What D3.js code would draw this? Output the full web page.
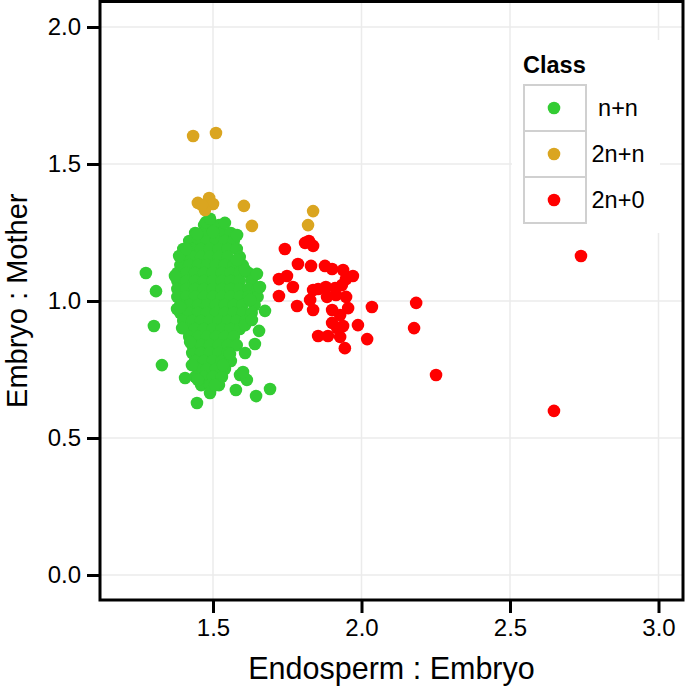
<!DOCTYPE html>
<html><head><meta charset="utf-8">
<script src="https://cdn.jsdelivr.net/npm/d3@7"></script>
<style>body{margin:0;background:#fff;} text{font-family:"Liberation Sans",Arial,Helvetica,sans-serif;}</style>
</head><body>
<svg id="c" width="685" height="687"></svg>
<script>
// Classes & colors
const classes = ["n+n", "2n+n", "2n+0"];
const classColors = ["#33cc33", "#daa520", "#ff0000"];
const xTicks = [1.5, 2.0, 2.5, 3.0];
const yTicks = [0.0, 0.5, 1.0, 1.5, 2.0];

// n+n : dense core, read row by row  [y, [x...]]
const greenCoreRows = [
  [1.277, [1.47, 1.50, 1.52]],
  [1.248, [1.44, 1.47, 1.50, 1.53, 1.56]],
  [1.219, [1.42, 1.45, 1.48, 1.51, 1.54, 1.57]],
  [1.190, [1.40, 1.43, 1.46, 1.49, 1.52, 1.55, 1.58]],
  [1.161, [1.40, 1.43, 1.46, 1.49, 1.52, 1.55, 1.59]],
  [1.131, [1.39, 1.42, 1.45, 1.48, 1.51, 1.54, 1.57, 1.60]],
  [1.102, [1.38, 1.41, 1.44, 1.47, 1.50, 1.53, 1.56, 1.59, 1.62]],
  [1.073, [1.38, 1.41, 1.44, 1.47, 1.50, 1.53, 1.56, 1.59, 1.63]],
  [1.044, [1.38, 1.41, 1.44, 1.47, 1.50, 1.53, 1.56, 1.59, 1.62, 1.65]],
  [1.015, [1.38, 1.41, 1.44, 1.47, 1.50, 1.53, 1.56, 1.59, 1.62, 1.65]],
  [0.985, [1.39, 1.42, 1.45, 1.48, 1.51, 1.54, 1.57, 1.60, 1.64]],
  [0.956, [1.39, 1.42, 1.45, 1.48, 1.51, 1.54, 1.57, 1.60, 1.63]],
  [0.927, [1.40, 1.43, 1.46, 1.49, 1.52, 1.55, 1.58, 1.61]],
  [0.898, [1.41, 1.44, 1.47, 1.50, 1.53, 1.56, 1.59]],
  [0.869, [1.42, 1.45, 1.48, 1.51, 1.54, 1.57]],
  [0.839, [1.43, 1.46, 1.49, 1.52, 1.55, 1.58]],
  [0.810, [1.43, 1.46, 1.49, 1.52, 1.55]],
  [0.781, [1.44, 1.47, 1.50, 1.53, 1.56]],
  [0.752, [1.45, 1.48, 1.51, 1.54]],
  [0.723, [1.44, 1.47, 1.50, 1.53]],
  [0.693, [1.46, 1.49, 1.52]]
];
// n+n : scattered points
const greenPoints = [
  [1.476,1.288],[1.540,1.285],[1.581,1.241],[1.500,1.252],[1.446,1.245],[1.386,1.164],
  [1.409,1.190],[1.274,1.102],[1.308,1.036],[1.372,1.091],[1.608,1.113],[1.648,1.099],
  [1.658,1.051],[1.581,1.150],[1.301,0.909],[1.328,0.766],[1.446,0.628],[1.406,0.719],
  [1.449,0.712],[1.490,0.664],[1.507,0.693],[1.608,0.810],[1.641,0.843],[1.655,0.891],
  [1.675,0.964],[1.692,0.679],[1.645,0.653],[1.577,0.675],[1.591,0.730],[1.614,0.712],
  [1.557,0.807],[1.379,0.971],[1.396,0.901],[1.423,0.850],[1.608,0.912],[1.429,0.766],
  [1.534,0.766],[1.389,0.978],[1.601,0.741],[1.625,1.004],[1.631,0.931],[1.490,1.300]
];
// 2n+n
const goldPoints = [
  [1.433,1.602],[1.510,1.613],[1.449,1.358],[1.487,1.376],[1.500,1.354],[1.473,1.332],
  [1.463,1.350],[1.604,1.347],[1.631,1.274],[1.837,1.328],[1.820,1.277]
];
// 2n+0
const redPoints = [
  [1.742,1.190],[1.810,1.212],[1.823,1.219],[1.837,1.201],[1.786,1.135],[1.830,1.128],
  [1.877,1.128],[1.901,1.117],[1.938,1.113],[1.971,1.091],[1.722,1.080],[1.749,1.091],
  [1.769,1.051],[1.722,1.018],[1.783,0.982],[1.837,1.040],[1.854,1.044],[1.880,1.051],
  [1.911,1.047],[1.934,1.058],[1.948,1.080],[1.827,1.004],[1.837,0.967],[1.884,1.015],
  [1.914,1.022],[1.948,1.015],[1.901,0.967],[1.928,0.949],[1.955,0.974],[2.035,0.978],
  [1.901,0.920],[1.938,0.909],[1.988,0.912],[1.854,0.872],[1.887,0.872],[1.928,0.869],
  [1.944,0.828],[2.019,0.861],[1.918,0.901],[2.184,0.993],[2.177,0.901],[2.251,0.730],
  [2.739,1.164],[2.648,0.599]
];

const svg = d3.select("#c");
const L = 100, R = 683, T = 1.5, B = 600;
const x = d3.scaleLinear().domain([1.1195, 3.0825]).range([L, R]);
const y = d3.scaleLinear().domain([-0.0912, 2.093]).range([B, T]);

// grid
const g = svg.append("g");
g.selectAll(".gx").data(xTicks).join("line")
  .attr("x1", d => x(d)).attr("x2", d => x(d)).attr("y1", T).attr("y2", B)
  .attr("stroke", "#ebebeb").attr("stroke-width", 1.5);
g.selectAll(".gy").data(yTicks).join("line")
  .attr("y1", d => y(d)).attr("y2", d => y(d)).attr("x1", L).attr("x2", R)
  .attr("stroke", "#ebebeb").attr("stroke-width", 1.5);

// points
const all = [];
greenCoreRows.forEach(([yy, xs]) => xs.forEach(xx => all.push({x: xx, y: yy, c: 0})));
greenPoints.forEach(p => all.push({x: p[0], y: p[1], c: 0}));
goldPoints.forEach(p => all.push({x: p[0], y: p[1], c: 1}));
redPoints.forEach(p => all.push({x: p[0], y: p[1], c: 2}));
svg.append("g").selectAll("circle").data(all).join("circle")
  .attr("cx", d => x(d.x)).attr("cy", d => y(d.y)).attr("r", 6.3)
  .attr("fill", d => classColors[d.c]);

// legend
const leg = svg.append("g");
leg.append("rect").attr("x", 512).attr("y", 40).attr("width", 148).attr("height", 193).attr("fill", "#fff");
leg.append("text").attr("x", 523).attr("y", 73).attr("font-size", 23.5).attr("font-weight", "bold").text("Class");
classes.forEach((c, i) => {
  const y0 = 85 + i * 46;
  leg.append("rect").attr("x", 524).attr("y", y0).attr("width", 62).attr("height", 46)
    .attr("fill", "#fff").attr("stroke", "#d0d0d0").attr("stroke-width", 2);
  leg.append("circle").attr("cx", 554).attr("cy", y0 + 23).attr("r", 6.3).attr("fill", classColors[i]);
  leg.append("text").attr("x", 618).attr("y", y0 + 31).attr("font-size", 23.5).attr("text-anchor", "middle").text(c);
});

// panel border
svg.append("rect").attr("x", L).attr("y", T).attr("width", R - L).attr("height", B - T)
  .attr("fill", "none").attr("stroke", "#000").attr("stroke-width", 3);

// axes
const ax = svg.append("g").attr("transform", `translate(0,${B})`)
  .call(d3.axisBottom(x).tickValues(xTicks).tickFormat(d3.format(".1f")).tickSize(13).tickPadding(6));
const ay = svg.append("g").attr("transform", `translate(${L},0)`)
  .call(d3.axisLeft(y).tickValues(yTicks).tickFormat(d3.format(".1f")).tickSize(13).tickPadding(6));
[ax, ay].forEach(a => {
  a.select(".domain").remove();
  a.selectAll(".tick line").attr("stroke", "#000").attr("stroke-width", 3);
  a.selectAll(".tick text").attr("font-size", 24).attr("fill", "#000")
    .style("font-family", '"Liberation Sans",Arial,Helvetica,sans-serif');
});

// titles
svg.append("text").attr("x", (L + R) / 2).attr("y", 679).attr("text-anchor", "middle")
  .attr("font-size", 30.5).text("Endosperm : Embryo");
svg.append("text").attr("transform", `translate(27,${(T + B) / 2}) rotate(-90)`)
  .attr("text-anchor", "middle").attr("font-size", 29).text("Embryo : Mother");
</script>
</body></html>
